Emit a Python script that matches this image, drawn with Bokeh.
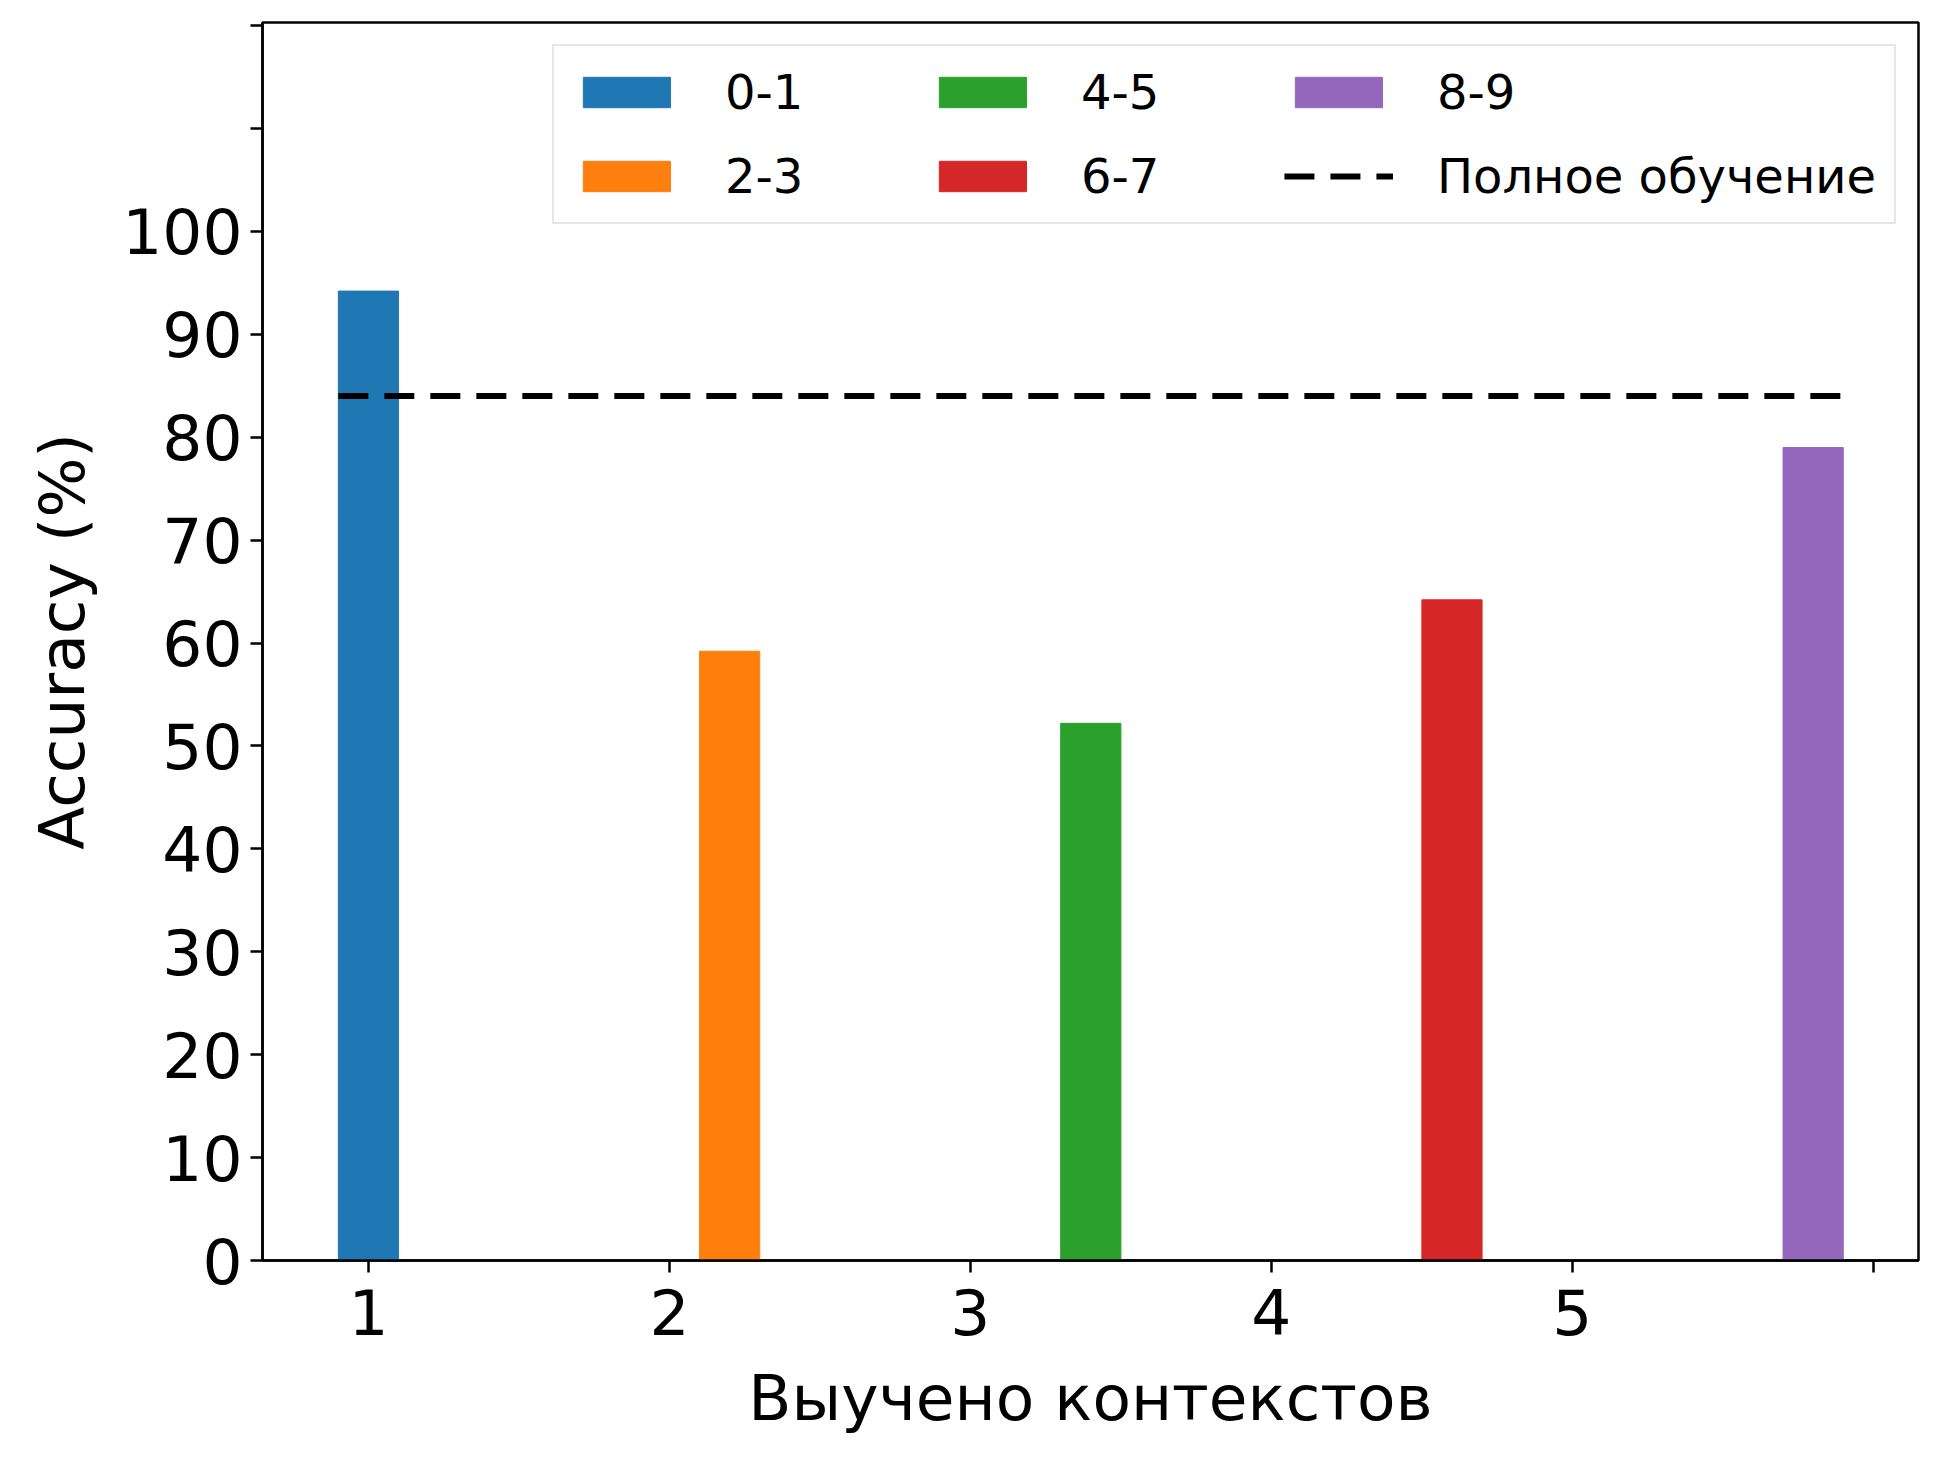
from bokeh.plotting import figure
from bokeh.models import Legend, LegendItem, FixedTicker, Range1d
from bokeh.embed import file_html
from bokeh.resources import INLINE

groups = ["0-1", "2-3", "4-5", "6-7", "8-9"]
positions = [1.0, 2.2, 3.4, 4.6, 5.8]
accuracy = [94.2, 59.2, 52.2, 64.2, 79.0]
colors = ["#1f77b4", "#ff7f0e", "#2ca02c", "#d62728", "#9467bd"]
full_training = 84.0
full_label = "Полное обучение"
x_ticks = [1, 2, 3, 4, 5, 6]
y_ticks = list(range(0, 130, 10))

FONT = "DejaVu Sans"

p = figure(width=1938, height=1458, output_backend="svg", toolbar_location=None,
           x_range=Range1d(0.648, 6.15), y_range=Range1d(0, 120.3))
p.min_border_left = 262
p.min_border_top = 22
p.min_border_right = 20
p.min_border_bottom = 198
p.xgrid.visible = False
p.ygrid.visible = False
p.outline_line_color = "black"
p.outline_line_width = 2.5
p.outline_line_alpha = 1

items = []
for x, y, c, g in zip(positions, accuracy, colors, groups):
    r = p.vbar(x=[x], top=[y], width=0.2, color=c)
    items.append(LegendItem(label=g, renderers=[r]))

ln = p.line(x=[0.9, 5.9], y=[full_training, full_training], line_color="black",
            line_width=6, line_dash="30 16")
items.append(LegendItem(label=full_label, renderers=[ln]))

for ax in (p.xaxis[0], p.yaxis[0]):
    ax.axis_line_width = 2.5
    ax.major_tick_line_width = 2.5
    ax.major_tick_out = 12
    ax.major_tick_in = 0
    ax.minor_tick_line_color = None
    ax.major_label_text_font = FONT
    ax.major_label_text_font_size = "63px"
    ax.major_label_text_color = "black"
    ax.axis_label_text_font = FONT
    ax.axis_label_text_font_size = "63px"
    ax.axis_label_text_font_style = "normal"
    ax.axis_label_text_color = "black"

p.xaxis.ticker = FixedTicker(ticks=x_ticks)
p.xaxis.major_label_overrides = {6: ""}
p.xaxis.axis_label = "Выучено контекстов"
p.xaxis.major_label_standoff = 16
p.xaxis.axis_label_standoff = 24
p.yaxis.ticker = FixedTicker(ticks=y_ticks)
p.yaxis.major_label_overrides = {110: "", 120: ""}
p.yaxis.axis_label = "Accuracy (%)"
p.yaxis.major_label_standoff = 8
p.yaxis.axis_label_standoff = 20

legend = Legend(items=items, location="top_right", orientation="vertical", nrows=2,
                label_text_font=FONT, label_text_font_size="48px", label_text_color="black",
                glyph_width=109, glyph_height=38, label_standoff=44, label_width=175,
                spacing=28, padding=18, margin=22,
                border_line_color="#cccccc", border_line_width=2,
                background_fill_alpha=0.9)
p.add_layout(legend)

open("out.html", "w").write(file_html(p, INLINE))
